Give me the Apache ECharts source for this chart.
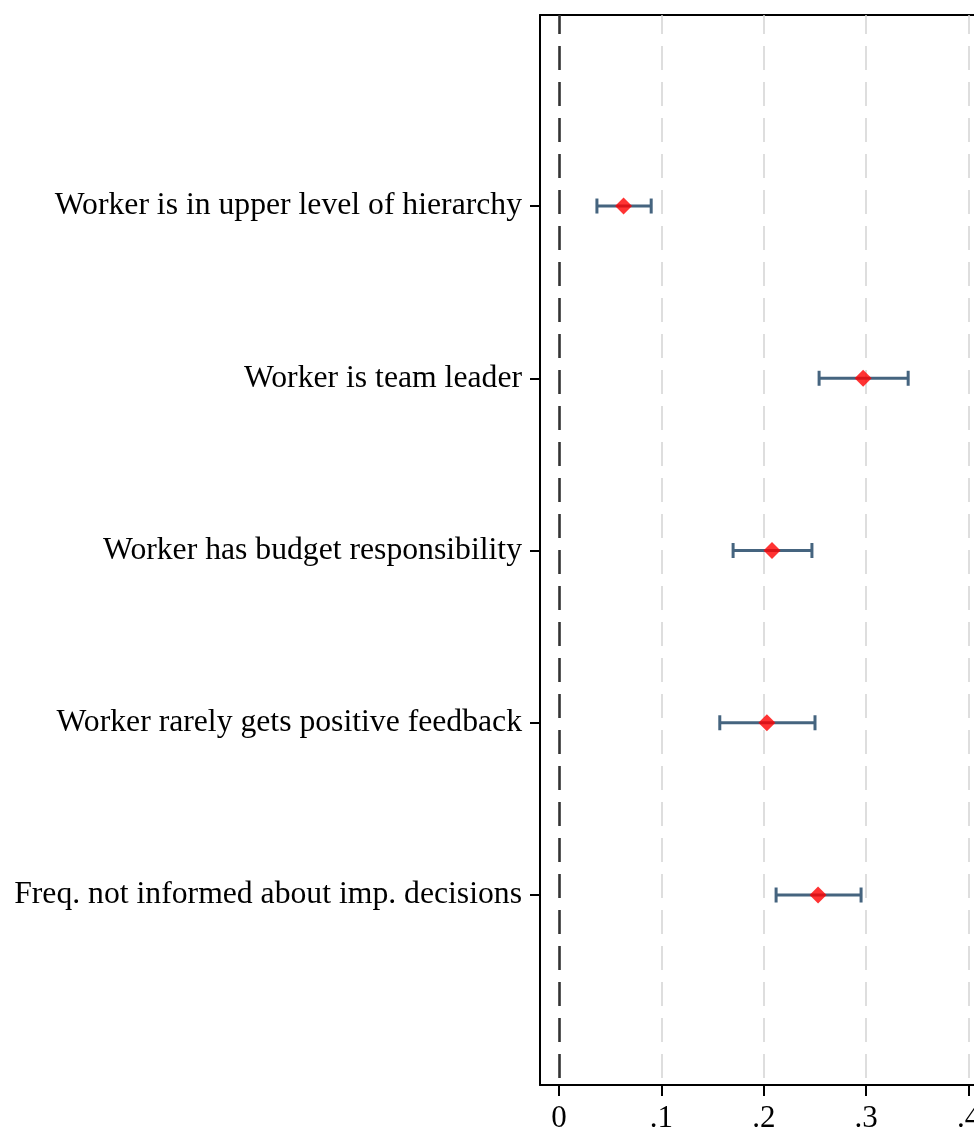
<!DOCTYPE html>
<html>
<head>
<meta charset="utf-8">
<script src="https://cdn.jsdelivr.net/npm/echarts@6/dist/echarts.min.js"></script>
<style>
html,body{margin:0;padding:0;background:#fff;}
#chart{width:974px;height:1128px;}
</style>
</head>
<body>
<div id="chart"></div>
<script>
// ---- data ----
var categories = [
  "Worker is in upper level of hierarchy",
  "Worker is team leader",
  "Worker has budget responsibility",
  "Worker rarely gets positive feedback",
  "Freq. not informed about imp. decisions"
];
var estimates = [0.063, 0.297, 0.208, 0.203, 0.253];
var ciLower  = [0.037, 0.254, 0.170, 0.157, 0.212];
var ciUpper  = [0.090, 0.341, 0.247, 0.250, 0.295];
var xTicks = [0, 0.1, 0.2, 0.3, 0.4];
var xTickLabels = ["0", ".1", ".2", ".3", ".4"];
var gridValues = [0.1, 0.2, 0.3, 0.4];
var zeroValue = [0];

var positions = categories.map(function (c, i) { return i + 1; });
var pointData = estimates.map(function (v, i) { return [v, positions[i]]; });
var ciData = ciLower.map(function (lo, i) { return [lo, ciUpper[i], positions[i]]; });

var FONT = "Liberation Serif";
var chart = echarts.init(document.getElementById('chart'), null, {renderer: 'canvas'});

var option = {
  backgroundColor: '#ffffff',
  animation: false,
  grid: { left: 540, top: 15, bottom: 43, right: 0, containLabel: false, outerBoundsMode: 'none' },
  xAxis: [{
    type: 'value',
    min: -0.0186,
    max: 0.4053,
    position: 'bottom',
    axisLine: { show: true, onZero: false, lineStyle: { color: '#000', width: 2 } },
    axisTick: { show: true, length: 11, customValues: xTicks, lineStyle: { color: '#000', width: 2 } },
    axisLabel: {
      customValues: xTicks,
      formatter: function (v) {
        var idx = xTicks.findIndex(function (t) { return Math.abs(t - v) < 1e-9; });
        return idx >= 0 ? xTickLabels[idx] : '';
      },
      color: '#000', fontFamily: FONT, fontSize: 31, margin: 18
    },
    splitLine: { show: false }
  }, {
    type: 'value',
    min: -0.0186,
    max: 0.4053,
    position: 'top',
    axisLine: { show: true, onZero: false, lineStyle: { color: '#000', width: 2 } },
    axisTick: { show: false },
    axisLabel: { show: false },
    splitLine: { show: false }
  }],
  yAxis: {
    type: 'value',
    inverse: true,
    min: -0.109,
    max: 6.103,
    axisLine: { show: true, onZero: false, lineStyle: { color: '#000', width: 2 } },
    axisTick: { show: true, length: 10, customValues: positions, lineStyle: { color: '#000', width: 2 } },
    axisLabel: {
      customValues: positions,
      formatter: function (v) {
        var i = Math.round(v) - 1;
        return categories[i] || '';
      },
      color: '#000', fontFamily: FONT, fontSize: 31.7, margin: 18
    },
    splitLine: { show: false }
  },
  series: [
    {
      type: 'line',
      data: [],
      silent: true,
      markLine: {
        silent: true,
        symbol: ['none', 'none'],
        label: { show: false },
        lineStyle: { color: '#d3d3d3', width: 1.5, type: [24, 12], dashOffset: 5 },
        data: gridValues.map(function (v) { return { xAxis: v }; })
      }
    },
    {
      type: 'line',
      data: [],
      silent: true,
      markLine: {
        silent: true,
        symbol: ['none', 'none'],
        label: { show: false },
        lineStyle: { color: '#333333', width: 2.6, type: [24, 12], dashOffset: 5 },
        data: zeroValue.map(function (v) { return { xAxis: v }; })
      }
    },
    {
      type: 'custom',
      data: ciData,
      z: 5,
      renderItem: function (params, api) {
        var lo = api.coord([api.value(0), api.value(2)]);
        var hi = api.coord([api.value(1), api.value(2)]);
        var h = 7.5;
        var style = { stroke: '#45647f', lineWidth: 3 };
        return {
          type: 'group',
          children: [
            { type: 'line', shape: { x1: lo[0], y1: lo[1], x2: hi[0], y2: hi[1] }, style: style },
            { type: 'line', shape: { x1: lo[0], y1: lo[1] - h, x2: lo[0], y2: lo[1] + h }, style: style },
            { type: 'line', shape: { x1: hi[0], y1: hi[1] - h, x2: hi[0], y2: hi[1] + h }, style: style }
          ]
        };
      }
    },
    {
      type: 'scatter',
      data: pointData,
      symbol: 'diamond',
      symbolSize: [17, 17],
      z: 10,
      itemStyle: { color: '#ff0000' }
    }
  ]
};
chart.setOption(option);
</script>
</body>
</html>
